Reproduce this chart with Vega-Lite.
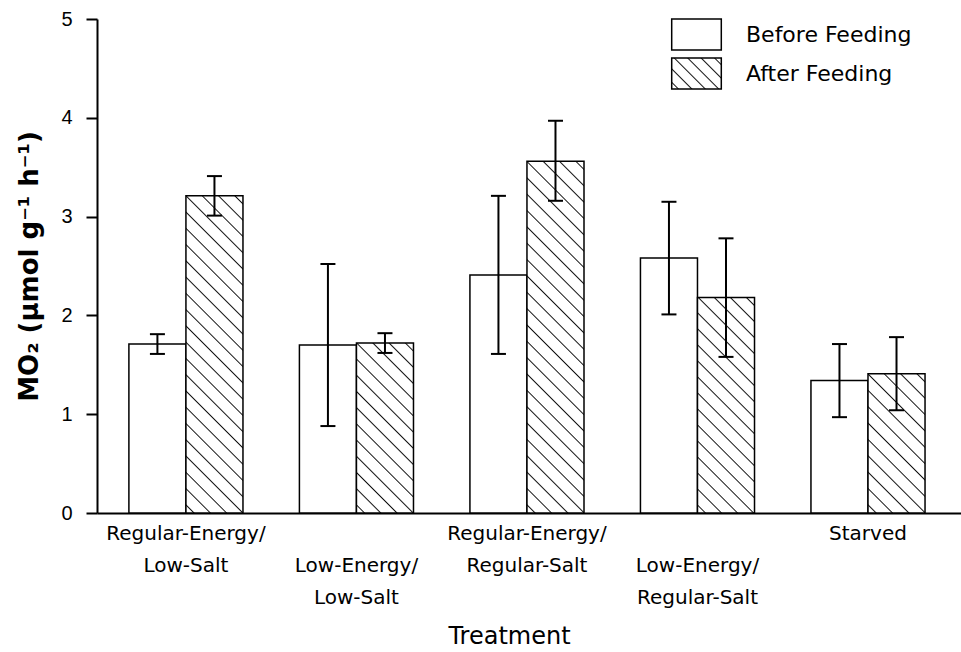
{
  "$schema": "https://vega.github.io/schema/vega-lite/v6.json",
  "width": 864,
  "height": 494,
  "autosize": {"type": "none"},
  "padding": {"left": 97, "top": 19, "right": 0, "bottom": 139},
  "background": "white",
  "config": {
    "view": {"stroke": null},
    "axis": {"domainColor": "black", "tickColor": "black", "labelColor": "black", "titleColor": "black", "grid": false}
  },
  "data": {"values": [
    {"Treatment": "Regular-Energy/Low-Salt", "Feeding": "Before Feeding", "MO2": 1.71, "lo": 1.61, "hi": 1.81},
    {"Treatment": "Regular-Energy/Low-Salt", "Feeding": "After Feeding", "MO2": 3.21, "lo": 3.01, "hi": 3.41},
    {"Treatment": "Low-Energy/Low-Salt", "Feeding": "Before Feeding", "MO2": 1.70, "lo": 0.88, "hi": 2.52},
    {"Treatment": "Low-Energy/Low-Salt", "Feeding": "After Feeding", "MO2": 1.72, "lo": 1.62, "hi": 1.82},
    {"Treatment": "Regular-Energy/Regular-Salt", "Feeding": "Before Feeding", "MO2": 2.41, "lo": 1.61, "hi": 3.21},
    {"Treatment": "Regular-Energy/Regular-Salt", "Feeding": "After Feeding", "MO2": 3.56, "lo": 3.16, "hi": 3.97},
    {"Treatment": "Low-Energy/Regular-Salt", "Feeding": "Before Feeding", "MO2": 2.58, "lo": 2.01, "hi": 3.15},
    {"Treatment": "Low-Energy/Regular-Salt", "Feeding": "After Feeding", "MO2": 2.18, "lo": 1.58, "hi": 2.78},
    {"Treatment": "Starved", "Feeding": "Before Feeding", "MO2": 1.34, "lo": 0.97, "hi": 1.71},
    {"Treatment": "Starved", "Feeding": "After Feeding", "MO2": 1.41, "lo": 1.04, "hi": 1.78}
  ]},
  "encoding": {
    "x": {
      "field": "Treatment", "type": "nominal",
      "scale": {"domain": ["Regular-Energy/Low-Salt", "Low-Energy/Low-Salt", "Regular-Energy/Regular-Salt", "Low-Energy/Regular-Salt", "Starved"], "paddingInner": 0.331, "paddingOuter": 0.199, "align": 0.47},
      "axis": {
        "title": "Treatment", "titleFont": "DejaVu Sans", "titleFontSize": 24, "titleFontWeight": "normal",
        "titleX": 412, "titleY": 130, "titleBaseline": "alphabetic", "titleAlign": "center", "titleAnchor": "middle",
        "labelExpr": "indexof(['Low-Energy/Low-Salt', 'Low-Energy/Regular-Salt'], datum.label) >= 0 ? split(replace('|' + datum.label, '/', '/|'), '|') : split(replace(datum.label, '/', '/|'), '|')",
        "labelFont": "DejaVu Sans", "labelFontSize": 20, "labelLineHeight": 32, "labelAngle": 0,
        "labelBaseline": "top", "labelPadding": 10, "labelOverlap": false, "labelLimit": 400,
        "ticks": false, "tickSize": 0, "domainWidth": 2
      }
    },
    "xOffset": {"field": "Feeding", "type": "nominal", "scale": {"domain": ["Before Feeding", "After Feeding"], "paddingInner": 0, "paddingOuter": 0}}
  },
  "layer": [
    {
      "mark": {"type": "bar", "strokeWidth": 1.5, "opacity": 1},
      "encoding": {
        "y": {
          "field": "MO2", "type": "quantitative",
          "scale": {"domain": [0, 5], "nice": false},
          "title": "MO₂ (µmol g⁻¹ h⁻¹)",
          "axis": {
            "titleFont": "DejaVu Sans", "titleFontSize": 26, "titleFontWeight": "bold",
            "titleAngle": 270, "titleX": -68, "titleY": 247, "titleAlign": "center", "titleBaseline": "middle",
            "values": [0, 1, 2, 3, 4, 5], "format": "d", "labelFont": "Liberation Sans", "labelFontSize": 20, "labelPadding": 14,
            "labelFlush": false, "labelBaseline": "middle",
            "tickSize": 11, "tickWidth": 2, "domainWidth": 2
          }
        },
        "stroke": {
          "field": "Feeding", "type": "nominal",
          "scale": {"domain": ["Before Feeding", "After Feeding"], "range": ["black", "black"]},
          "legend": {
            "orient": "none", "legendX": 583, "legendY": -1, "title": null, "padding": 0, "offset": 0,
            "symbolType": "M-1.6,-1H1.6V1H-1.6Z", "symbolSize": 961, "symbolStrokeWidth": 1.5,
            "symbolOpacity": 1,
            "labelFont": "DejaVu Sans", "labelFontSize": 22, "labelColor": "black", "labelOffset": 33, "rowPadding": 2, "labelLimit": 400
          }
        },
        "fill": {
          "value": {"expr": "datum.label === 'After Feeding' ? {gradient: 'linear', x1: 0, y1: 1, x2: 1.1686, y2: 0.2696, stops: [{offset: 0.0659, color: '#fff'}, {offset: 0.0833, color: '#111'}, {offset: 0.1007, color: '#fff'}, {offset: 0.2326, color: '#fff'}, {offset: 0.25, color: '#111'}, {offset: 0.2674, color: '#fff'}, {offset: 0.3993, color: '#fff'}, {offset: 0.4167, color: '#111'}, {offset: 0.4341, color: '#fff'}, {offset: 0.5659, color: '#fff'}, {offset: 0.5833, color: '#111'}, {offset: 0.6007, color: '#fff'}, {offset: 0.7326, color: '#fff'}, {offset: 0.75, color: '#111'}, {offset: 0.7674, color: '#fff'}, {offset: 0.8993, color: '#fff'}, {offset: 0.9167, color: '#111'}, {offset: 0.9341, color: '#fff'}]} : 'white'"},
          "condition": [
            {"test": "datum.Feeding === 'After Feeding' && datum.Treatment === 'Regular-Energy/Low-Salt'", "value": {"gradient": "linear", "x1": 0, "y1": 1, "x2": 0.2054, "y2": -0.1429, "stops": [
              {"offset": 0.0180, "color": "#fff"}, {"offset": 0.0217, "color": "#111"}, {"offset": 0.0254, "color": "#fff"},
              {"offset": 0.0615, "color": "#fff"}, {"offset": 0.0652, "color": "#111"}, {"offset": 0.0689, "color": "#fff"},
              {"offset": 0.1050, "color": "#fff"}, {"offset": 0.1087, "color": "#111"}, {"offset": 0.1124, "color": "#fff"},
              {"offset": 0.1485, "color": "#fff"}, {"offset": 0.1522, "color": "#111"}, {"offset": 0.1559, "color": "#fff"},
              {"offset": 0.1920, "color": "#fff"}, {"offset": 0.1957, "color": "#111"}, {"offset": 0.1994, "color": "#fff"},
              {"offset": 0.2354, "color": "#fff"}, {"offset": 0.2391, "color": "#111"}, {"offset": 0.2428, "color": "#fff"},
              {"offset": 0.2789, "color": "#fff"}, {"offset": 0.2826, "color": "#111"}, {"offset": 0.2863, "color": "#fff"},
              {"offset": 0.3224, "color": "#fff"}, {"offset": 0.3261, "color": "#111"}, {"offset": 0.3298, "color": "#fff"},
              {"offset": 0.3659, "color": "#fff"}, {"offset": 0.3696, "color": "#111"}, {"offset": 0.3733, "color": "#fff"},
              {"offset": 0.4093, "color": "#fff"}, {"offset": 0.4130, "color": "#111"}, {"offset": 0.4167, "color": "#fff"},
              {"offset": 0.4528, "color": "#fff"}, {"offset": 0.4565, "color": "#111"}, {"offset": 0.4602, "color": "#fff"},
              {"offset": 0.4963, "color": "#fff"}, {"offset": 0.5000, "color": "#111"}, {"offset": 0.5037, "color": "#fff"},
              {"offset": 0.5398, "color": "#fff"}, {"offset": 0.5435, "color": "#111"}, {"offset": 0.5472, "color": "#fff"},
              {"offset": 0.5833, "color": "#fff"}, {"offset": 0.5870, "color": "#111"}, {"offset": 0.5907, "color": "#fff"},
              {"offset": 0.6267, "color": "#fff"}, {"offset": 0.6304, "color": "#111"}, {"offset": 0.6341, "color": "#fff"},
              {"offset": 0.6702, "color": "#fff"}, {"offset": 0.6739, "color": "#111"}, {"offset": 0.6776, "color": "#fff"},
              {"offset": 0.7137, "color": "#fff"}, {"offset": 0.7174, "color": "#111"}, {"offset": 0.7211, "color": "#fff"},
              {"offset": 0.7572, "color": "#fff"}, {"offset": 0.7609, "color": "#111"}, {"offset": 0.7646, "color": "#fff"},
              {"offset": 0.8006, "color": "#fff"}, {"offset": 0.8043, "color": "#111"}, {"offset": 0.8080, "color": "#fff"},
              {"offset": 0.8441, "color": "#fff"}, {"offset": 0.8478, "color": "#111"}, {"offset": 0.8515, "color": "#fff"},
              {"offset": 0.8876, "color": "#fff"}, {"offset": 0.8913, "color": "#111"}, {"offset": 0.8950, "color": "#fff"},
              {"offset": 0.9311, "color": "#fff"}, {"offset": 0.9348, "color": "#111"}, {"offset": 0.9385, "color": "#fff"},
              {"offset": 0.9746, "color": "#fff"}, {"offset": 0.9783, "color": "#111"}, {"offset": 0.9820, "color": "#fff"}
            ]}},
            {"test": "datum.Feeding === 'After Feeding' && datum.Treatment === 'Low-Energy/Low-Salt'", "value": {"gradient": "linear", "x1": 0, "y1": 1, "x2": 0.4027, "y2": -0.2004, "stops": [
              {"offset": 0.0295, "color": "#fff"}, {"offset": 0.0357, "color": "#111"}, {"offset": 0.0419, "color": "#fff"},
              {"offset": 0.1009, "color": "#fff"}, {"offset": 0.1071, "color": "#111"}, {"offset": 0.1133, "color": "#fff"},
              {"offset": 0.1724, "color": "#fff"}, {"offset": 0.1786, "color": "#111"}, {"offset": 0.1848, "color": "#fff"},
              {"offset": 0.2438, "color": "#fff"}, {"offset": 0.2500, "color": "#111"}, {"offset": 0.2562, "color": "#fff"},
              {"offset": 0.3152, "color": "#fff"}, {"offset": 0.3214, "color": "#111"}, {"offset": 0.3276, "color": "#fff"},
              {"offset": 0.3867, "color": "#fff"}, {"offset": 0.3929, "color": "#111"}, {"offset": 0.3991, "color": "#fff"},
              {"offset": 0.4581, "color": "#fff"}, {"offset": 0.4643, "color": "#111"}, {"offset": 0.4705, "color": "#fff"},
              {"offset": 0.5295, "color": "#fff"}, {"offset": 0.5357, "color": "#111"}, {"offset": 0.5419, "color": "#fff"},
              {"offset": 0.6009, "color": "#fff"}, {"offset": 0.6071, "color": "#111"}, {"offset": 0.6133, "color": "#fff"},
              {"offset": 0.6724, "color": "#fff"}, {"offset": 0.6786, "color": "#111"}, {"offset": 0.6848, "color": "#fff"},
              {"offset": 0.7438, "color": "#fff"}, {"offset": 0.7500, "color": "#111"}, {"offset": 0.7562, "color": "#fff"},
              {"offset": 0.8152, "color": "#fff"}, {"offset": 0.8214, "color": "#111"}, {"offset": 0.8276, "color": "#fff"},
              {"offset": 0.8867, "color": "#fff"}, {"offset": 0.8929, "color": "#111"}, {"offset": 0.8991, "color": "#fff"},
              {"offset": 0.9581, "color": "#fff"}, {"offset": 0.9643, "color": "#111"}, {"offset": 0.9705, "color": "#fff"}
            ]}},
            {"test": "datum.Feeding === 'After Feeding' && datum.Treatment === 'Regular-Energy/Regular-Salt'", "value": {"gradient": "linear", "x1": 0, "y1": 1, "x2": 0.1835, "y2": -0.1323, "stops": [
              {"offset": 0.0166, "color": "#fff"}, {"offset": 0.02, "color": "#111"}, {"offset": 0.0234, "color": "#fff"},
              {"offset": 0.0566, "color": "#fff"}, {"offset": 0.06, "color": "#111"}, {"offset": 0.0634, "color": "#fff"},
              {"offset": 0.0966, "color": "#fff"}, {"offset": 0.10, "color": "#111"}, {"offset": 0.1034, "color": "#fff"},
              {"offset": 0.1366, "color": "#fff"}, {"offset": 0.14, "color": "#111"}, {"offset": 0.1434, "color": "#fff"},
              {"offset": 0.1766, "color": "#fff"}, {"offset": 0.18, "color": "#111"}, {"offset": 0.1834, "color": "#fff"},
              {"offset": 0.2166, "color": "#fff"}, {"offset": 0.22, "color": "#111"}, {"offset": 0.2234, "color": "#fff"},
              {"offset": 0.2566, "color": "#fff"}, {"offset": 0.26, "color": "#111"}, {"offset": 0.2634, "color": "#fff"},
              {"offset": 0.2966, "color": "#fff"}, {"offset": 0.30, "color": "#111"}, {"offset": 0.3034, "color": "#fff"},
              {"offset": 0.3366, "color": "#fff"}, {"offset": 0.34, "color": "#111"}, {"offset": 0.3434, "color": "#fff"},
              {"offset": 0.3766, "color": "#fff"}, {"offset": 0.38, "color": "#111"}, {"offset": 0.3834, "color": "#fff"},
              {"offset": 0.4166, "color": "#fff"}, {"offset": 0.42, "color": "#111"}, {"offset": 0.4234, "color": "#fff"},
              {"offset": 0.4566, "color": "#fff"}, {"offset": 0.46, "color": "#111"}, {"offset": 0.4634, "color": "#fff"},
              {"offset": 0.4966, "color": "#fff"}, {"offset": 0.50, "color": "#111"}, {"offset": 0.5034, "color": "#fff"},
              {"offset": 0.5366, "color": "#fff"}, {"offset": 0.54, "color": "#111"}, {"offset": 0.5434, "color": "#fff"},
              {"offset": 0.5766, "color": "#fff"}, {"offset": 0.58, "color": "#111"}, {"offset": 0.5834, "color": "#fff"},
              {"offset": 0.6166, "color": "#fff"}, {"offset": 0.62, "color": "#111"}, {"offset": 0.6234, "color": "#fff"},
              {"offset": 0.6566, "color": "#fff"}, {"offset": 0.66, "color": "#111"}, {"offset": 0.6634, "color": "#fff"},
              {"offset": 0.6966, "color": "#fff"}, {"offset": 0.70, "color": "#111"}, {"offset": 0.7034, "color": "#fff"},
              {"offset": 0.7366, "color": "#fff"}, {"offset": 0.74, "color": "#111"}, {"offset": 0.7434, "color": "#fff"},
              {"offset": 0.7766, "color": "#fff"}, {"offset": 0.78, "color": "#111"}, {"offset": 0.7834, "color": "#fff"},
              {"offset": 0.8166, "color": "#fff"}, {"offset": 0.82, "color": "#111"}, {"offset": 0.8234, "color": "#fff"},
              {"offset": 0.8566, "color": "#fff"}, {"offset": 0.86, "color": "#111"}, {"offset": 0.8634, "color": "#fff"},
              {"offset": 0.8966, "color": "#fff"}, {"offset": 0.90, "color": "#111"}, {"offset": 0.9034, "color": "#fff"},
              {"offset": 0.9366, "color": "#fff"}, {"offset": 0.94, "color": "#111"}, {"offset": 0.9434, "color": "#fff"},
              {"offset": 0.9766, "color": "#fff"}, {"offset": 0.98, "color": "#111"}, {"offset": 0.9834, "color": "#fff"}
            ]}},
            {"test": "datum.Feeding === 'After Feeding' && datum.Treatment === 'Low-Energy/Regular-Salt'", "value": {"gradient": "linear", "x1": 0, "y1": 1, "x2": 0.3128, "y2": -0.1819, "stops": [
              {"offset": 0.0243, "color": "#fff"}, {"offset": 0.0294, "color": "#111"}, {"offset": 0.0345, "color": "#fff"},
              {"offset": 0.0831, "color": "#fff"}, {"offset": 0.0882, "color": "#111"}, {"offset": 0.0933, "color": "#fff"},
              {"offset": 0.1420, "color": "#fff"}, {"offset": 0.1471, "color": "#111"}, {"offset": 0.1522, "color": "#fff"},
              {"offset": 0.2008, "color": "#fff"}, {"offset": 0.2059, "color": "#111"}, {"offset": 0.2110, "color": "#fff"},
              {"offset": 0.2596, "color": "#fff"}, {"offset": 0.2647, "color": "#111"}, {"offset": 0.2698, "color": "#fff"},
              {"offset": 0.3184, "color": "#fff"}, {"offset": 0.3235, "color": "#111"}, {"offset": 0.3286, "color": "#fff"},
              {"offset": 0.3773, "color": "#fff"}, {"offset": 0.3824, "color": "#111"}, {"offset": 0.3875, "color": "#fff"},
              {"offset": 0.4361, "color": "#fff"}, {"offset": 0.4412, "color": "#111"}, {"offset": 0.4463, "color": "#fff"},
              {"offset": 0.4949, "color": "#fff"}, {"offset": 0.5000, "color": "#111"}, {"offset": 0.5051, "color": "#fff"},
              {"offset": 0.5537, "color": "#fff"}, {"offset": 0.5588, "color": "#111"}, {"offset": 0.5639, "color": "#fff"},
              {"offset": 0.6125, "color": "#fff"}, {"offset": 0.6176, "color": "#111"}, {"offset": 0.6227, "color": "#fff"},
              {"offset": 0.6714, "color": "#fff"}, {"offset": 0.6765, "color": "#111"}, {"offset": 0.6816, "color": "#fff"},
              {"offset": 0.7302, "color": "#fff"}, {"offset": 0.7353, "color": "#111"}, {"offset": 0.7404, "color": "#fff"},
              {"offset": 0.7890, "color": "#fff"}, {"offset": 0.7941, "color": "#111"}, {"offset": 0.7992, "color": "#fff"},
              {"offset": 0.8478, "color": "#fff"}, {"offset": 0.8529, "color": "#111"}, {"offset": 0.8580, "color": "#fff"},
              {"offset": 0.9067, "color": "#fff"}, {"offset": 0.9118, "color": "#111"}, {"offset": 0.9169, "color": "#fff"},
              {"offset": 0.9655, "color": "#fff"}, {"offset": 0.9706, "color": "#111"}, {"offset": 0.9757, "color": "#fff"}
            ]}},
            {"test": "datum.Feeding === 'After Feeding' && datum.Treatment === 'Starved'", "value": {"gradient": "linear", "x1": 0, "y1": 1, "x2": 0.4939, "y2": -0.2071, "stops": [
              {"offset": 0.0346, "color": "#fff"}, {"offset": 0.0417, "color": "#111"}, {"offset": 0.0488, "color": "#fff"},
              {"offset": 0.1179, "color": "#fff"}, {"offset": 0.1250, "color": "#111"}, {"offset": 0.1321, "color": "#fff"},
              {"offset": 0.2012, "color": "#fff"}, {"offset": 0.2083, "color": "#111"}, {"offset": 0.2154, "color": "#fff"},
              {"offset": 0.2846, "color": "#fff"}, {"offset": 0.2917, "color": "#111"}, {"offset": 0.2988, "color": "#fff"},
              {"offset": 0.3679, "color": "#fff"}, {"offset": 0.3750, "color": "#111"}, {"offset": 0.3821, "color": "#fff"},
              {"offset": 0.4512, "color": "#fff"}, {"offset": 0.4583, "color": "#111"}, {"offset": 0.4654, "color": "#fff"},
              {"offset": 0.5346, "color": "#fff"}, {"offset": 0.5417, "color": "#111"}, {"offset": 0.5488, "color": "#fff"},
              {"offset": 0.6179, "color": "#fff"}, {"offset": 0.6250, "color": "#111"}, {"offset": 0.6321, "color": "#fff"},
              {"offset": 0.7012, "color": "#fff"}, {"offset": 0.7083, "color": "#111"}, {"offset": 0.7154, "color": "#fff"},
              {"offset": 0.7846, "color": "#fff"}, {"offset": 0.7917, "color": "#111"}, {"offset": 0.7988, "color": "#fff"},
              {"offset": 0.8679, "color": "#fff"}, {"offset": 0.8750, "color": "#111"}, {"offset": 0.8821, "color": "#fff"},
              {"offset": 0.9512, "color": "#fff"}, {"offset": 0.9583, "color": "#111"}, {"offset": 0.9654, "color": "#fff"}
            ]}}
          ]
        }
      }
    },
    {
      "mark": {"type": "rule", "color": "black", "strokeWidth": 2},
      "encoding": {
        "y": {"field": "lo", "type": "quantitative", "title": "MO₂ (µmol g⁻¹ h⁻¹)"},
        "y2": {"field": "hi"}
      }
    },
    {
      "mark": {"type": "tick", "color": "black", "size": 15, "thickness": 2, "orient": "horizontal", "opacity": 1},
      "encoding": {"y": {"field": "lo", "type": "quantitative", "title": "MO₂ (µmol g⁻¹ h⁻¹)"}}
    },
    {
      "mark": {"type": "tick", "color": "black", "size": 15, "thickness": 2, "orient": "horizontal", "opacity": 1},
      "encoding": {"y": {"field": "hi", "type": "quantitative", "title": "MO₂ (µmol g⁻¹ h⁻¹)"}}
    }
  ]
}
